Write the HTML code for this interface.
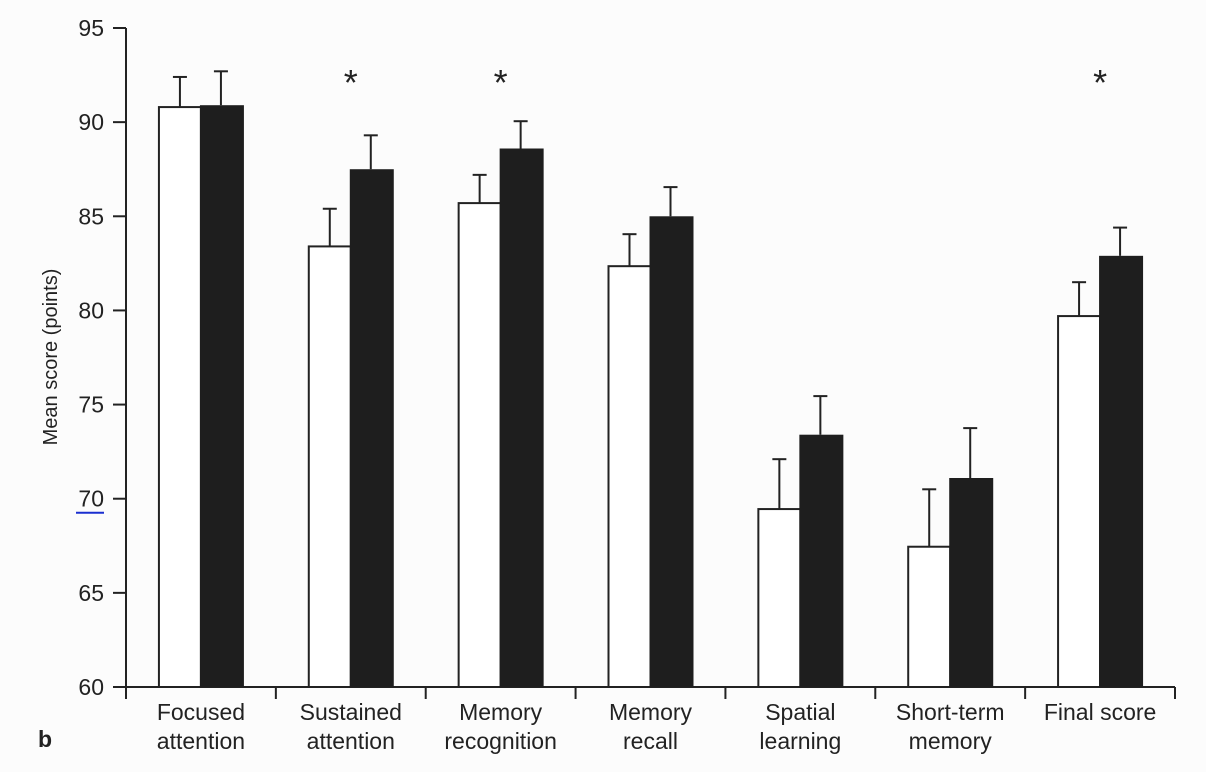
<!DOCTYPE html>
<html><head><meta charset="utf-8"><style>
body{margin:0;background:#fcfcfc;}
svg{display:block;font-family:"Liberation Sans","DejaVu Sans",sans-serif;}
</style></head><body>
<svg id="chart" width="1206" height="772" viewBox="0 0 1206 772">
<rect width="1206" height="772" fill="#fcfcfc"/>
<g id="g"></g>
</svg>
<script>
const categories=[["Focused","attention"],["Sustained","attention"],["Memory","recognition"],["Memory","recall"],["Spatial","learning"],["Short-term","memory"],["Final score"]];
const whiteVals=[90.8,83.4,85.7,82.35,69.45,67.45,79.7];
const whiteErr=[1.6,2.0,1.5,1.7,2.65,3.05,1.8];
const blackVals=[90.9,87.5,88.6,85.0,73.4,71.1,82.9];
const blackErr=[1.8,1.8,1.45,1.55,2.05,2.65,1.5];
const significant=[false,true,true,false,false,false,true];
const yTicks=[60,65,70,75,80,85,90,95];
const NS="http://www.w3.org/2000/svg";
const g=document.getElementById('g');
const x0=126,x1=1175,y0=687,yTop=28;
const y=v=>y0-(v-60)/35*(y0-yTop);
const catW=(x1-x0)/categories.length;
const cx=i=>x0+catW*(i+0.5);
function el(t,a,txt){const e=document.createElementNS(NS,t);for(const k in a)e.setAttribute(k,a[k]);if(txt!=null)e.textContent=txt;g.appendChild(e);return e;}
let e=el('line',{x1:x0,y1:yTop,x2:x0,y2:y0,stroke:'#222','stroke-width':2});


e=el('line',{x1:x0,y1:y0,x2:x1,y2:y0,stroke:'#222','stroke-width':2});


yTicks.forEach(t=>{
 el('line',{x1:x0-13,y1:y(t),x2:x0,y2:y(t),stroke:'#222','stroke-width':2});
 const l=el('text',{x:104,y:y(t)+8,'text-anchor':'end','font-size':23,fill:'#222'},t);
 
 
});
el('line',{x1:76,y1:y(70)+14,x2:104,y2:y(70)+14,stroke:'#1a2fd0','stroke-width':2});
for(let i=0;i<=categories.length;i++){el('line',{x1:x0+catW*i,y1:y0,x2:x0+catW*i,y2:y0+12,stroke:'#222','stroke-width':2});}
const yt=el('text',{x:57,y:357,'text-anchor':'middle','font-size':20,fill:'#222',transform:'rotate(-90 57 357)'},'Mean score (points)');


categories.forEach((c,i)=>{
 const c0=cx(i);
 const wl=c0-42,bl=c0-1,bw=42;
 [[wl,whiteVals[i],whiteErr[i]],[bl,blackVals[i],blackErr[i]]].forEach(([l,v,er])=>{
  const m=l+bw/2;
  el('line',{x1:m,y1:y(v),x2:m,y2:y(v+er),stroke:'#222','stroke-width':2});
  el('line',{x1:m-7,y1:y(v+er),x2:m+7,y2:y(v+er),stroke:'#222','stroke-width':2});
 });
 const wb=el('rect',{x:wl,y:y(whiteVals[i]),width:bw,height:y0-y(whiteVals[i]),fill:'#fff',stroke:'#222','stroke-width':2});
 
 
 const bb=el('rect',{x:bl,y:y(blackVals[i]),width:bw+2,height:y0-y(blackVals[i]),fill:'#1e1e1e'});
 
 
 c.forEach((ln,j)=>{
  const t=el('text',{x:c0,y:720+j*29,'text-anchor':'middle','font-size':23,fill:'#222'},ln);
  
  
 });
 if(significant[i]){
  const s=el('text',{x:c0,y:95,'text-anchor':'middle','font-size':36,fill:'#222'},'*');
  
  
 }
});
const b=el('text',{x:38,y:747,'font-size':23,'font-weight':'bold',fill:'#222'},'b');


</script>
</body></html>
